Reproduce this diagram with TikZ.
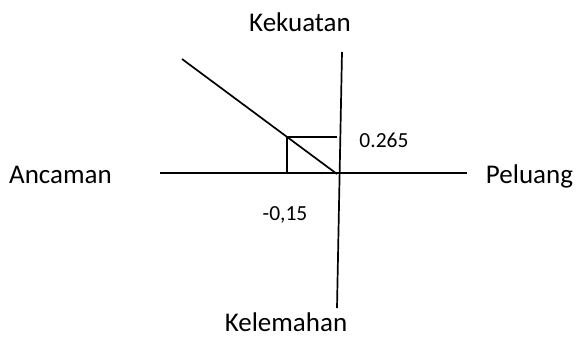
\documentclass[tikz,border=0pt]{standalone}
\usepackage{fontspec}
\setmainfont{Carlito}
\usepackage{tikz}

\begin{document}
\begin{tikzpicture}[x=1pt,y=-1pt,
  axis/.style={line width=1.7pt},
  lab/.style={font=\fontsize{27}{30}\selectfont,inner sep=0pt,anchor=base},
  val/.style={font=\fontsize{21.5}{24}\selectfont,inner sep=0pt,anchor=base}]
\useasboundingbox (0,0) rectangle (576,337);
\coordinate (o) at (339,173);
\coordinate (vtop) at (342,52); \coordinate (vbot) at (337,308);
\coordinate (hl) at (160,173); \coordinate (hr) at (467,173);
\coordinate (dtop) at (182,59); \coordinate (dend) at (337,174);
\coordinate (p) at (287,137); \coordinate (py) at (337,137);
\draw[axis] (hl) -- (hr);
\draw[axis] (vtop) -- (vbot);
\draw[axis] (dtop) -- (dend);
\draw[axis] (p |- o) -- (p) -- (py);
\node[lab] (kuat) at (300,32) {Kekuatan};
\node[lab] (lemah) at (286,331.5) {Kelemahan};
\node[lab] (ancam) at (60.5,183) {Ancaman};
\node[lab] (peluang) at (529.5,183) {Peluang};
\node[val] (sy) at (384,147) {0.265};
\node[val] (sx) at (285,220) {-0,15};
\end{tikzpicture}
\end{document}
